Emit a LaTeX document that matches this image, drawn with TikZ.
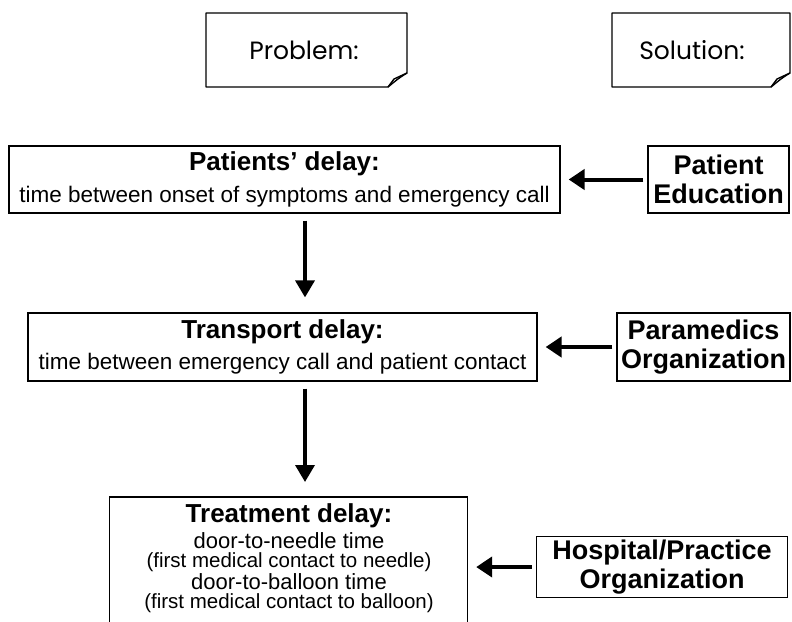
\documentclass[tikz,border=0pt]{standalone}
\usepackage{fontspec}
\setmainfont{Liberation Sans}
\newfontfamily\notefont{Poppins}
\usetikzlibrary{arrows.meta}

\tikzset{
  delaybox/.style={draw,line width=1.2pt,inner sep=0pt,align=center,font=\fontsize{22.5}{20}\selectfont},
  fixbox/.style={draw,line width=1.2pt,inner sep=0pt,align=center,font=\bfseries\fontsize{27}{29}\selectfont},
  notetext/.style={font=\notefont\fontsize{25}{25}\selectfont},
  note/.style={line width=1.4pt,line join=round},
  leftarr/.style={line width=4pt,-{Triangle[length=16pt,width=20pt]},shorten >=8pt,shorten <=4pt},
  downarr/.style={line width=3.5pt,-{Triangle[length=17pt,width=19pt]},shorten >=15pt,shorten <=7pt}
}
\newcommand{\hd}[1]{{\bfseries\fontsize{26}{20}\selectfont #1}}
\newcommand{\sm}[1]{{\fontsize{20.5}{20}\selectfont #1}}

\begin{document}
\begin{tikzpicture}[x=1pt,y=-1pt]
 \clip (0,0) rectangle (792,621);
 % notes on top
 \draw[note] (206,13) -- (407,13) -- (407,73) .. controls (399,78) .. (388,87) -- (206,87) -- cycle;
 \draw[note] (388,87) -- (394,79) -- (407,73);
 \node[notetext] (problem) at (304,50) {Problem:};
 \draw[note] (612,13) -- (790,13) -- (790,73) .. controls (782,78) .. (771,87) -- (612,87) -- cycle;
 \draw[note] (771,87) -- (777,79) -- (790,73);
 \node[notetext] (solution) at (692,50) {Solution:};
 % problem column
 \node[delaybox,minimum width=551pt,minimum height=67pt] (patients) at (284.5,179.5)
  {\hd{Patients’ delay:}\\[9pt]time between onset of symptoms and emergency call};
 \node[delaybox,minimum width=509pt,minimum height=68pt] (transport) at (282.5,347)
  {\hd{Transport delay:}\\[9pt]time between emergency call and patient contact};
 \node[anchor=north,inner xsep=0pt,inner ysep=6pt,minimum width=358pt,align=center,
  font=\fontsize{22}{20}\selectfont] (treatment) at (289,497)
  {\hd{Treatment delay:}\\[4pt]door-to-needle time\\[-1pt]\sm{(first medical contact to needle)}\\[1pt]
   door-to-balloon time\\[-1pt]\sm{(first medical contact to balloon)}};
 \draw[line width=1.2pt] (treatment.north west) rectangle ++(358,160);
 % solution column
 \node[fixbox,minimum width=141pt,minimum height=67pt] (education) at (718.5,179.5) {Patient\\Education};
 \node[fixbox,minimum width=173pt,minimum height=68pt] (paramedics) at (703.5,347) {Paramedics\\Organization};
 \node[fixbox,minimum width=251pt,minimum height=61pt] (hospital) at (662,567) {Hospital/Practice\\Organization};
 % arrows
 \coordinate (col) at (305,0);
 \draw[downarr] (patients.south -| col) -- (transport.north -| col);
 \draw[downarr] (transport.south -| col) -- (treatment.north -| col);
 \draw[leftarr] (education) -- (patients);
 \draw[leftarr] (paramedics.west) -- (transport.east |- paramedics.west);
 \draw[leftarr] (hospital.west) -- (treatment.east |- hospital.west);
\end{tikzpicture}
\end{document}
